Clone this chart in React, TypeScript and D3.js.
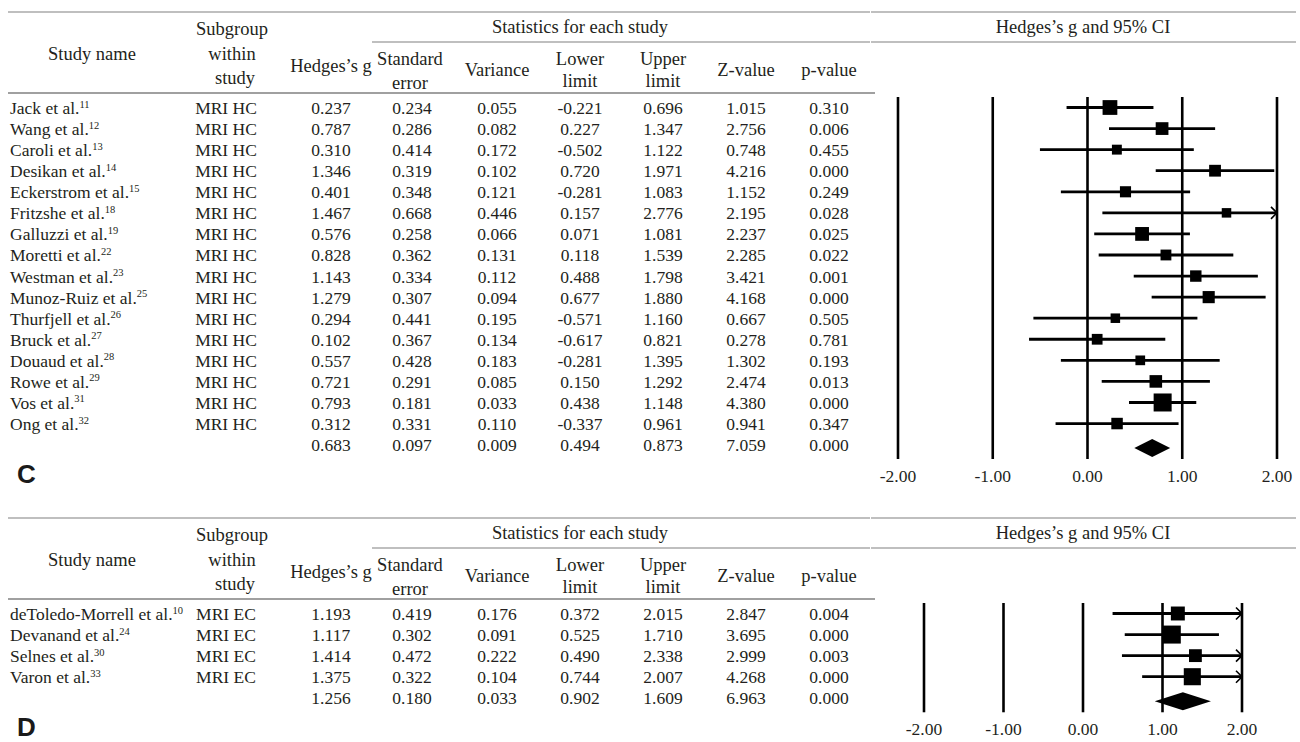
import React from 'react';
import * as d3 from 'd3';

// panel C : MRI hippocampus
const studiesC = ['Jack et al.', 'Wang et al.', 'Caroli et al.', 'Desikan et al.', 'Eckerstrom et al.', 'Fritzshe et al.', 'Galluzzi et al.', 'Moretti et al.', 'Westman et al.', 'Munoz-Ruiz et al.', 'Thurfjell et al.', 'Bruck et al.', 'Douaud et al.', 'Rowe et al.', 'Vos et al.', 'Ong et al.'];
const refsC = ['11', '12', '13', '14', '15', '18', '19', '22', '23', '25', '26', '27', '28', '29', '31', '32'];
const gC = [0.237, 0.787, 0.310, 1.346, 0.401, 1.467, 0.576, 0.828, 1.143, 1.279, 0.294, 0.102, 0.557, 0.721, 0.793, 0.312];
const seC = [0.234, 0.286, 0.414, 0.319, 0.348, 0.668, 0.258, 0.362, 0.334, 0.307, 0.441, 0.367, 0.428, 0.291, 0.181, 0.331];
const varC = [0.055, 0.082, 0.172, 0.102, 0.121, 0.446, 0.066, 0.131, 0.112, 0.094, 0.195, 0.134, 0.183, 0.085, 0.033, 0.110];
const lowerC = [-0.221, 0.227, -0.502, 0.720, -0.281, 0.157, 0.071, 0.118, 0.488, 0.677, -0.571, -0.617, -0.281, 0.150, 0.438, -0.337];
const upperC = [0.696, 1.347, 1.122, 1.971, 1.083, 2.776, 1.081, 1.539, 1.798, 1.880, 1.160, 0.821, 1.395, 1.292, 1.148, 0.961];
const zC = [1.015, 2.756, 0.748, 4.216, 1.152, 2.195, 2.237, 2.285, 3.421, 4.168, 0.667, 0.278, 1.302, 2.474, 4.380, 0.941];
const pC = [0.310, 0.006, 0.455, 0.000, 0.249, 0.028, 0.025, 0.022, 0.001, 0.000, 0.505, 0.781, 0.193, 0.013, 0.000, 0.347];
// g, se, variance, lower, upper, z, p
const summaryC = [0.683, 0.097, 0.009, 0.494, 0.873, 7.059, 0.000];

// panel D : MRI entorhinal cortex
const studiesD = ['deToledo-Morrell et al.', 'Devanand et al.', 'Selnes et al.', 'Varon et al.'];
const refsD = ['10', '24', '30', '33'];
const gD = [1.193, 1.117, 1.414, 1.375];
const seD = [0.419, 0.302, 0.472, 0.322];
const varD = [0.176, 0.091, 0.222, 0.104];
const lowerD = [0.372, 0.525, 0.490, 0.744];
const upperD = [2.015, 1.710, 2.338, 2.007];
const zD = [2.847, 3.695, 2.999, 4.268];
const pD = [0.004, 0.000, 0.003, 0.000];
const summaryD = [1.256, 0.180, 0.033, 0.902, 1.609, 6.963, 0.000];

const axisTicks = [-2, -1, 0, 1, 2];

const FONT = '"Liberation Serif", "Times New Roman", serif';
const INK = '#231f20';
const RULE = '#808080';
const FS = 17.5;
const HFS = 18.5;

// centres of the numeric columns
const numCols = [331, 412, 497, 580, 663, 746, 829];

function Panel(props) {
    const { top, label, names, refs, subgroup, cols, summary, forestRange } = props;
    const n = names.length;

    const rowY = d3.scaleLinear().domain([0, 1]).range([top + 96, top + 96 + 21.07]);
    const x = d3.scaleLinear().domain([-2, 2]).range(forestRange);

    const [g, , variance, lower, upper] = cols;
    const rootW = variance.map((v) => Math.sqrt(1 / v));
    const size = d3.scaleLinear().domain([0, d3.max(rootW)]).range([3.6, 18]);

    const yTop = rowY(0) - 11;
    const yBottom = rowY(n) + 14;

    const hText = (txt, cx, cy) => (
        <text x={cx} y={cy + 6.5} textAnchor="middle" fontSize={HFS}>{txt}</text>
    );

    return (
        <g fontFamily={FONT} fontSize={FS} fill={INK}>
            {/* header rules */}
            <line x1={8} x2={870} y1={top} y2={top} stroke={RULE} strokeWidth={1.2} />
            <line x1={871} x2={1296} y1={top} y2={top} stroke={RULE} strokeWidth={1.2} />
            <line x1={372} x2={870} y1={top + 30} y2={top + 30} stroke={RULE} strokeWidth={1.2} />
            <line x1={871} x2={1296} y1={top + 30} y2={top + 30} stroke={RULE} strokeWidth={1.2} />
            <line x1={8} x2={875} y1={top + 81} y2={top + 81} stroke={RULE} strokeWidth={1.5} />

            {/* header text */}
            {hText('Statistics for each study', 580, top + 14)}
            {hText('Hedges’s g and 95% CI', 1083, top + 14)}
            {hText('Study name', 92, top + 41)}
            {hText('Subgroup', 232, top + 16)}
            {hText('within', 232, top + 41)}
            {hText('study', 235, top + 65)}
            {hText('Hedges’s g', 331, top + 53)}
            {hText('Standard', 410, top + 46)}
            {hText('error', 410, top + 70)}
            {hText('Variance', 497, top + 57)}
            {hText('Lower', 580, top + 46)}
            {hText('limit', 580, top + 68)}
            {hText('Upper', 663, top + 46)}
            {hText('limit', 663, top + 68)}
            {hText('Z-value', 746, top + 57)}
            {hText('p-value', 829, top + 57)}

            {/* study rows */}
            {names.map((name, i) => (
                <g key={name}>
                    <text x={10} y={rowY(i) + 6}>
                        {name}
                        <tspan fontSize={10.5} dy={-6.5}>{refs[i]}</tspan>
                    </text>
                    <text x={226} y={rowY(i) + 6} textAnchor="middle">{subgroup}</text>
                    {cols.map((col, j) => (
                        <text key={j} x={numCols[j]} y={rowY(i) + 6} textAnchor="middle">
                            {col[i].toFixed(3)}
                        </text>
                    ))}
                </g>
            ))}
            {summary.map((v, j) => (
                <text key={'s' + j} x={numCols[j]} y={rowY(n) + 6} textAnchor="middle">{v.toFixed(3)}</text>
            ))}

            {/* panel letter */}
            <text x={17} y={rowY(n) + 38} fontFamily='"Liberation Sans", Arial, sans-serif'
                fontWeight="bold" fontSize={26} fill="#1a1a1a">{label}</text>

            {/* forest plot */}
            {axisTicks.map((t) => (
                <g key={t}>
                    <line x1={x(t)} x2={x(t)} y1={yTop} y2={yBottom} stroke="#000" strokeWidth={2.6} />
                    <text x={x(t)} y={rowY(n) + 37} textAnchor="middle">{t.toFixed(2)}</text>
                </g>
            ))}
            {names.map((name, i) => {
                const cy = rowY(i) - 0.5;
                const lo = Math.max(-2, lower[i]);
                const hi = Math.min(2, upper[i]);
                const s = Math.max(9.5, size(rootW[i]));
                return (
                    <g key={'f' + name}>
                        <line x1={x(lo)} x2={x(hi)} y1={cy} y2={cy} stroke="#000" strokeWidth={2.8} />
                        {upper[i] > 2 && (
                            <path d={`M${x(2) - 6},${cy - 6}L${x(2)},${cy}L${x(2) - 6},${cy + 6}`}
                                fill="none" stroke="#000" strokeWidth={1.6} />
                        )}
                        <rect x={x(g[i]) - s / 2} y={cy - s / 2} width={s} height={s} fill="#000" />
                    </g>
                );
            })}
            <polygon
                points={[
                    [x(summary[3]), rowY(n) + 3],
                    [x(summary[0]), rowY(n) + 3 - 9],
                    [x(summary[4]), rowY(n) + 3],
                    [x(summary[0]), rowY(n) + 3 + 9],
                ].map((p) => p.join(',')).join(' ')}
                fill="#000"
            />
        </g>
    );
}

export default function App() {
    return (
        <svg width={1300} height={742} style={{ position: 'absolute', left: 0, top: 0, display: 'block', background: '#fff' }}>
            <Panel top={12} label="C" names={studiesC} refs={refsC} subgroup="MRI HC"
                cols={[gC, seC, varC, lowerC, upperC, zC, pC]} summary={summaryC}
                forestRange={[898, 1277]} />
            <Panel top={518} label="D" names={studiesD} refs={refsD} subgroup="MRI EC"
                cols={[gD, seD, varD, lowerD, upperD, zD, pD]} summary={summaryD}
                forestRange={[924, 1242]} />
        </svg>
    );
}
